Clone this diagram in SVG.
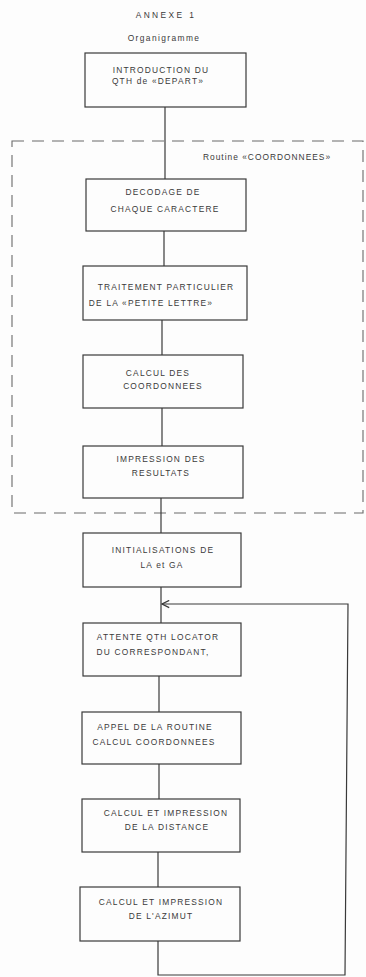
<svg xmlns="http://www.w3.org/2000/svg" width="366" height="977" viewBox="0 0 366 977">
<style>
  .bg { fill: #fdfdfd; }
  .box rect { fill: none; stroke: #3a3a3a; stroke-width: 1.2; }
  text { font-family: "Liberation Sans", Arial, sans-serif; font-size: 8.4px; fill: #3a3a3a; letter-spacing: 1.2px; }
  .c { text-anchor: middle; }
  .conn { fill: none; stroke: #3a3a3a; stroke-width: 1.2; }
  .frame { fill: none; stroke: #6a6a6a; stroke-width: 1.1; stroke-dasharray: 12 8; }
</style>
<defs>
  <marker id="arr" viewBox="0 0 10 10" refX="9" refY="5" markerWidth="9" markerHeight="9" orient="auto" markerUnits="userSpaceOnUse">
    <path d="M1,1 L9,5 L1,9" fill="none" stroke="#3a3a3a" stroke-width="1.4"/>
  </marker>
</defs>
<rect class="bg" x="0" y="0" width="366" height="977"/>

<g id="title">
  <text class="c" x="166" y="18" style="letter-spacing:2.4px">ANNEXE 1</text>
  <text class="c" x="164" y="41" style="letter-spacing:1.4px">Organigramme</text>
</g>

<g id="routine-frame">
  <rect class="frame" x="12" y="141" width="351" height="372"/>
  <text x="203" y="160" style="letter-spacing:1px">Routine «COORDONNEES»</text>
</g>

<g id="connectors">
  <line class="conn" x1="165" y1="107" x2="165" y2="179"/>
  <line class="conn" x1="164" y1="231" x2="164" y2="266"/>
  <line class="conn" x1="162" y1="320" x2="162" y2="355"/>
  <line class="conn" x1="162" y1="408" x2="162" y2="446"/>
  <line class="conn" x1="161" y1="498" x2="161" y2="533"/>
  <line class="conn" x1="161" y1="587" x2="161" y2="623"/>
  <line class="conn" x1="159" y1="676" x2="159" y2="712"/>
  <line class="conn" x1="159" y1="764" x2="159" y2="799"/>
  <line class="conn" x1="158" y1="852" x2="158" y2="887"/>
  <polyline class="conn" points="158,941 158,975 345,975 348,604 162,604" marker-end="url(#arr)"/>
</g>

<g id="n1" class="box">
  <rect x="85" y="53" width="161" height="54"/>
  <text class="c" x="161" y="73">INTRODUCTION DU</text>
  <text class="c" x="158" y="84">QTH de «DEPART»</text>
</g>
<g id="n2" class="box">
  <rect x="86" y="179" width="160" height="52"/>
  <text class="c" x="163" y="195">DECODAGE DE</text>
  <text class="c" x="165" y="212">CHAQUE CARACTERE</text>
</g>
<g id="n3" class="box">
  <rect x="83" y="266" width="164" height="54"/>
  <text class="c" x="166" y="290">TRAITEMENT PARTICULIER</text>
  <text class="c" x="151" y="306">DE LA «PETITE LETTRE»</text>
</g>
<g id="n4" class="box">
  <rect x="83" y="355" width="160" height="53"/>
  <text class="c" x="158" y="376">CALCUL DES</text>
  <text class="c" x="163" y="389">COORDONNEES</text>
</g>
<g id="n5" class="box">
  <rect x="83" y="446" width="160" height="52"/>
  <text class="c" x="161" y="462">IMPRESSION DES</text>
  <text class="c" x="161" y="476">RESULTATS</text>
</g>
<g id="n6" class="box">
  <rect x="83" y="533" width="158" height="54"/>
  <text class="c" x="163" y="553">INITIALISATIONS DE</text>
  <text class="c" x="162" y="568">LA et GA</text>
</g>
<g id="n7" class="box">
  <rect x="83" y="623" width="158" height="53"/>
  <text class="c" x="158" y="640">ATTENTE QTH LOCATOR</text>
  <text class="c" x="153" y="655">DU CORRESPONDANT,</text>
</g>
<g id="n8" class="box">
  <rect x="82" y="712" width="159" height="52"/>
  <text class="c" x="155" y="730">APPEL DE LA ROUTINE</text>
  <text class="c" x="154" y="745">CALCUL COORDONNEES</text>
</g>
<g id="n9" class="box">
  <rect x="82" y="799" width="158" height="53"/>
  <text class="c" x="166" y="816">CALCUL ET IMPRESSION</text>
  <text class="c" x="167" y="830">DE LA DISTANCE</text>
</g>
<g id="n10" class="box">
  <rect x="80" y="887" width="160" height="54"/>
  <text class="c" x="161" y="905">CALCUL ET IMPRESSION</text>
  <text class="c" x="161" y="919">DE L'AZIMUT</text>
</g>
</svg>
